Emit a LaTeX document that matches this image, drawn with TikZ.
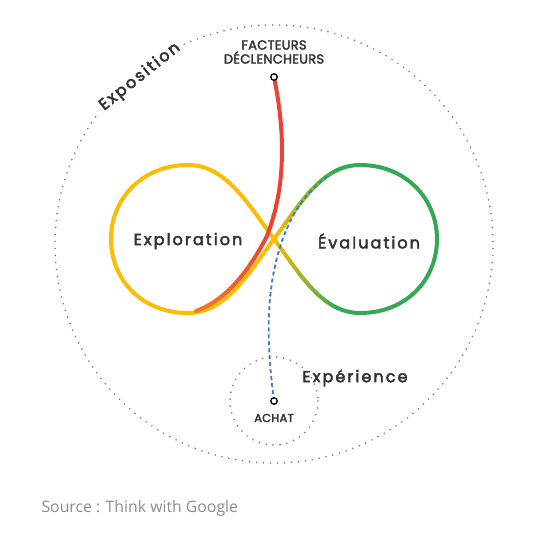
\documentclass[tikz,border=0pt]{standalone}
\usepackage{fontspec}
\setmainfont{Poppins}
\newfontfamily\srcfont{Open Sans}
\newfontfamily\labfont{Poppins}[LetterSpace=13, FakeBold=3]
\newfontfamily\capfont{Poppins}[LetterSpace=2, FakeBold=2.5]
\definecolor{yellowG}{HTML}{FBBC04}
\definecolor{greenG}{HTML}{34A853}
\definecolor{redG}{HTML}{EA4335}
\definecolor{orangeG}{HTML}{F27D26}
\definecolor{blueG}{HTML}{4179C4}
\definecolor{tealG}{HTML}{2B9385}
\definecolor{dotgray}{HTML}{7A7A7A}
\definecolor{txt}{HTML}{333333}
\definecolor{srcgray}{HTML}{8C8C8C}
\begin{document}
\begin{tikzpicture}[x=1pt,y=-1pt,
  dotline/.style={draw=dotgray, line width=1.8pt, line cap=round, dash pattern=on 0pt off 7pt},
  loopline/.style={line width=4pt, line cap=round, line join=round},
  dashline/.style={line width=1.8pt, dash pattern=on 4pt off 3pt},
  dotnode/.style={circle, draw=black, fill=white, line width=1.3pt, inner sep=0pt, minimum size=6.5pt},
  biglbl/.style={text=txt, font=\labfont\fontsize{16}{18}\selectfont},
  smalllbl/.style={text=txt, font=\capfont\fontsize{13}{14}\selectfont, align=center},
  leftloop/.style={insert path={(274,239) .. controls (248,204) and (226,165) .. (188,165) .. controls (142,165) and (111,199) .. (111,239) .. controls (111,280) and (142,313) .. (188,313) .. controls (226,313) and (248,274) .. (274,239)}},
  rightloop/.style={insert path={(274,239) .. controls (300,204) and (322,165) .. (360,165) .. controls (406,165) and (437,199) .. (437,239) .. controls (437,280) and (406,313) .. (360,313) .. controls (322,313) and (300,274) .. (274,239)}},
]
\useasboundingbox (0,0) rectangle (540,532);
\coordinate (ctr) at (274,244);
\coordinate (trig) at (274,77);
\coordinate (ach) at (274,401);

% dotted circles
\draw[dotline] (ctr) ++(-116:219) arc[start angle=-116, end angle=217, radius=219];
\draw[dotline] (ach) circle[radius=44];

% right loop with yellow->green gradient near crossing
\foreach \k in {0,...,16} {
  \pgfmathsetmacro\xa{272+4*\k}
  \pgfmathsetmacro\pc{\k*100/16}
  \begin{scope}
    \clip (\xa,0) rectangle ++(4.4,532);
    \draw[loopline, draw=greenG!\pc!yellowG, rightloop];
  \end{scope}
}
\begin{scope}
  \clip (339.5,0) rectangle (540,532);
  \draw[loopline, draw=greenG, rightloop];
\end{scope}

% left loop
\draw[loopline, draw=yellowG, leftloop];

% red trigger path
\foreach \k in {0,...,18} {
  \pgfmathsetmacro\xa{196+4*\k}
  \pgfmathsetmacro\pc{\k*100/18}
  \begin{scope}
    \clip (\xa,0) rectangle ++(4.4,532);
    \draw[loopline, draw=redG!\pc!orangeG] (trig) .. controls (287,140) and (284,195) .. (266,238) .. controls (248,272) and (226,300) .. (196,311);
  \end{scope}
}
\begin{scope}
  \clip (271.5,0) rectangle (540,532);
  \draw[loopline, draw=redG] (trig) .. controls (287,140) and (284,195) .. (266,238) .. controls (248,272) and (226,300) .. (196,311);
\end{scope}
\begin{scope}
  \clip (0,0) rectangle (196.5,532);
  \draw[loopline, draw=orangeG] (trig) .. controls (287,140) and (284,195) .. (266,238) .. controls (248,272) and (226,300) .. (196,311);
\end{scope}

% blue dashed purchase path
\foreach \k in {0,...,30} {
  \pgfmathsetmacro\ya{172+4*\k}
  \pgfmathsetmacro\pc{\k*100/30}
  \begin{scope}
    \clip (0,\ya) rectangle ++(540,4.4);
    \draw[dashline, draw=blueG!\pc!tealG] (ach) .. controls (266,340) and (266,290) .. (281,244) .. controls (291,214) and (306,192) .. (328,176);
  \end{scope}
}
\begin{scope}
  \clip (0,295.5) rectangle (540,532);
  \draw[dashline, draw=blueG] (ach) .. controls (266,340) and (266,290) .. (281,244) .. controls (291,214) and (306,192) .. (328,176);
\end{scope}

% dots
\node[dotnode] (trigdot) at (trig) {};
\node[dotnode] (achdot) at (ach) {};

% labels
\node[smalllbl] (facteurs) at (274,52) {FACTEURS\\DÉCLENCHEURS};
\node[smalllbl, font=\capfont\fontsize{11.5}{13}\selectfont] (achat) at (274,418) {ACHAT};
\node[biglbl] (explo) at (188,241) {Exploration};
\node[biglbl] (eval) at (369,241) {Évaluation};
\node[biglbl] (exper) at (355,378) {Expérience};
\node[biglbl, rotate=38.7] (expo) at (140,77) {Exposition};
\node[text=srcgray, font=\srcfont\fontsize{15.8}{18}\selectfont, anchor=west] (src) at (38,508) {Source : Think with Google};
\end{tikzpicture}
\end{document}
